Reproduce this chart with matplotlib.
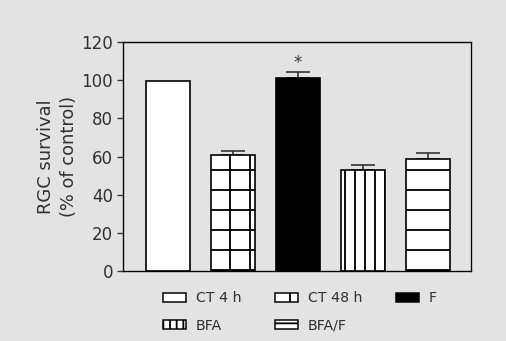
import matplotlib
matplotlib.use("Agg")
import matplotlib.pyplot as plt
import numpy as np
from matplotlib.patches import Patch

categories = ["CT 4 h", "CT 48 h", "F", "BFA", "BFA/F"]
values = [99.5, 61, 101, 53, 58.5]
errors = [0, 2, 3, 2.5, 3.5]
hatches = ["", "+", "", "||", "-"]
legend_hatches = ["", "+", "", "|||", "---"]
faces = ["white", "white", "black", "white", "white"]
yticks = [0, 20, 40, 60, 80, 100, 120]

BG = "#e3e3e3"
TXT = "#303030"
plt.rcParams['font.family'] = ['DejaVu Sans']
plt.rcParams['hatch.linewidth'] = 1.1
plt.rcParams['hatch.color'] = 'black'

fig = plt.figure(figsize=(506/120, 341/120), dpi=120, facecolor=BG)
ax = fig.add_axes([0.243, 0.205, 0.688, 0.672], facecolor=BG)

x = np.arange(len(categories))
bars = ax.bar(x, values, width=0.68, color=faces, edgecolor="black",
              linewidth=1.0, hatch=hatches, zorder=2)

ex = [i for i in range(len(categories)) if errors[i] > 0]
ax.errorbar([x[i] for i in ex], [values[i] for i in ex],
            yerr=[[0]*len(ex), [errors[i] for i in ex]],
            fmt="none", ecolor="#333333", elinewidth=1.0, capsize=7,
            capthick=1.0, zorder=1)

ax.text(x[2], values[2] + errors[2] + 0.3, "*", ha="center", va="bottom",
        fontsize=10, color="#333333")

ax.set_xlim(-0.69, 4.66)
ax.set_ylim(0, 120)
ax.set_yticks(yticks)
ax.set_xticks([])
ax.tick_params(axis="y", direction="out", length=3.5, width=0.8,
               labelsize=10, colors=TXT, pad=2.5)
for s in ax.spines.values():
    s.set_linewidth(0.8)
ax.set_ylabel("RGC survival\n(% of control)", fontsize=10.7, color=TXT,
              labelpad=2, linespacing=1.35)

handles = [Patch(facecolor=faces[i], edgecolor="black", hatch=legend_hatches[i],
                 linewidth=0.9) for i in range(len(categories))]
order = [0, 3, 1, 4, 2]
leg = fig.legend([handles[i] for i in order], [categories[i] for i in order],
                 ncol=3, loc="upper left", bbox_to_anchor=(0.322, 0.146),
                 bbox_transform=fig.transFigure,
                 frameon=False, fontsize=8.5, handlelength=1.62, handleheight=0.64,
                 columnspacing=2.36, handletextpad=0.7, labelspacing=0.95,
                 borderaxespad=0, borderpad=0)
for t in leg.get_texts():
    t.set_color(TXT)

fig.savefig("out.png", dpi=120, facecolor=BG)
